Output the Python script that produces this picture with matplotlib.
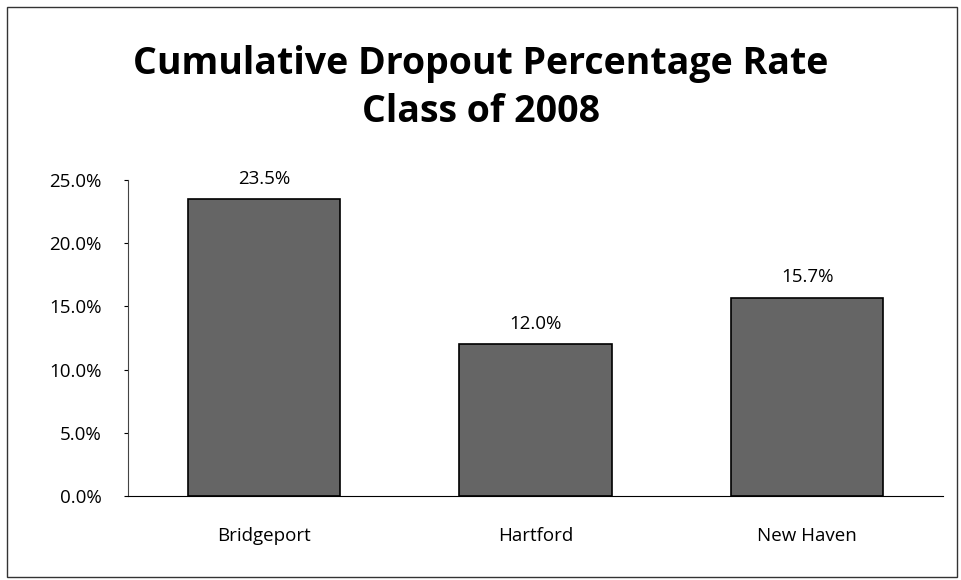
import matplotlib.pyplot as plt
from matplotlib.patches import Rectangle
from matplotlib.ticker import PercentFormatter

cities = ["Bridgeport", "Hartford", "New Haven"]
rates = [23.5, 12.0, 15.7]

plt.rcParams['font.family'] = ['Open Sans', 'DejaVu Sans']

fig = plt.figure(figsize=(9.61, 5.8), dpi=100)
ax = fig.add_axes([128/961, 1-496/580, 815/961, 316/580])

bars = ax.bar(range(len(cities)), rates, width=0.56, color="#656565",
              edgecolor="black", linewidth=1.2)
for b, v in zip(bars, rates):
    ax.text(b.get_x() + b.get_width()/2, v + 0.9, f"{v:.1f}%",
            ha="center", va="bottom", fontsize=13.5)

ax.set_xlim(-0.5, 2.5)
ax.set_ylim(0, 25)
ax.set_yticks([0, 5, 10, 15, 20, 25])
ax.yaxis.set_major_formatter(PercentFormatter(decimals=1))
ax.set_xticks(range(len(cities)))
ax.set_xticklabels(cities)
ax.tick_params(axis="y", labelsize=13.5, length=3, pad=16)
ax.tick_params(axis="x", labelsize=13.5, length=0, pad=22)
ax.spines["top"].set_visible(False)
ax.spines["right"].set_visible(False)
ax.spines["left"].set_color("#444444")

fig.text(0.5, 1-88/580, "Cumulative Dropout Percentage Rate\nClass of 2008",
         ha="center", va="center", fontsize=27, fontweight="bold",
         linespacing=1.35)

fig.patches.append(Rectangle((7/961, 3/580), 950/961, 570/580,
                             transform=fig.transFigure, fill=False,
                             edgecolor="#333333", linewidth=1))

fig.savefig("out.png", dpi=100)
